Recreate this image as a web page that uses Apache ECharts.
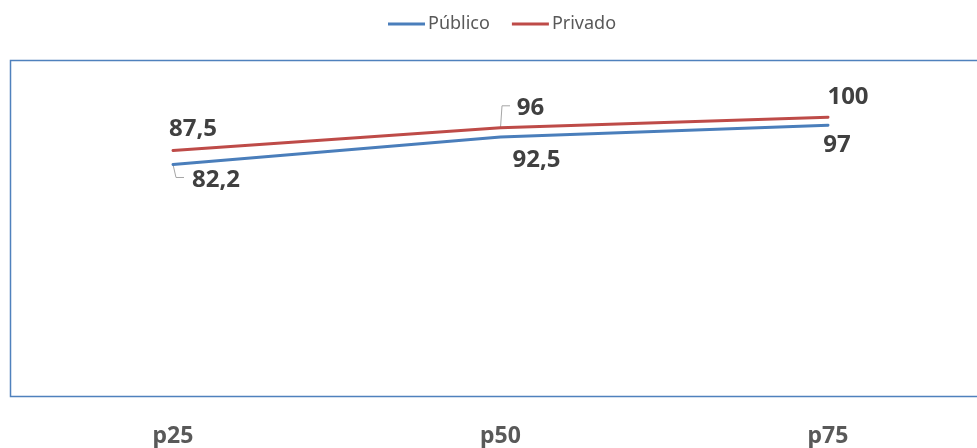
<!DOCTYPE html>
<html>
<head>
<meta charset="utf-8">
<script src="https://cdn.jsdelivr.net/npm/echarts@6/dist/echarts.min.js"></script>
<style>
  html, body { margin: 0; padding: 0; background: #fff; }
  #chart { width: 977px; height: 448px; }
</style>
</head>
<body>
<div id="chart"></div>
<script>
// Percentiles and values for each sector
const categories = ['p25', 'p50', 'p75'];
const publico = [82.2, 92.5, 97];
const privado = [87.5, 96, 100];
const seriesNames = ['Público', 'Privado'];

// Label placement (offsets in px from each point)
const publicoLabelOffsets = [[43, 16], [36, 23], [9, 20]];
const privadoLabelOffsets = [[20, -21], [30, -20], [20, -20]];

// Elbow leader lines, relative to their point: null = no leader
const publicoLeaders = [[[0, 0], [3, 13], [11, 13]], null, null];
const privadoLeaders = [null, [[0, 0], [1.5, -22], [9.5, -22]], null];

const FONT = '"Noto Sans", "Open Sans", sans-serif';

function fmt(v) {
  return String(v).replace('.', ',');
}

function makeSeries(name, values, color, offsets) {
  return {
    name: name,
    type: 'line',
    data: values.map(function (v, i) {
      return { value: v, label: { offset: offsets[i] } };
    }),
    symbol: 'circle',
    symbolSize: 2,
    showSymbol: true,
    itemStyle: { color: color },
    lineStyle: { color: color, width: 3, cap: 'round' },
    label: {
      show: true,
      position: 'inside',
      formatter: function (p) { return fmt(p.value); },
      fontFamily: FONT,
      fontSize: 24,
      fontWeight: 'bold',
      color: '#404040'
    },
    z: 2,
    animation: false
  };
}

// Leader lines, anchored at the same data points through the axes
const leaderShapes = [];
const leaderData = [];
[[publico, publicoLeaders], [privado, privadoLeaders]].forEach(function (pair) {
  pair[0].forEach(function (v, i) {
    if (pair[1][i]) {
      leaderData.push([i, v, leaderShapes.length]);
      leaderShapes.push(pair[1][i]);
    }
  });
});

const chart = echarts.init(document.getElementById('chart'), null, { renderer: 'canvas' });

chart.setOption({
  backgroundColor: '#ffffff',
  animation: false,
  legend: {
    data: seriesNames,
    top: 10,
    left: 383,
    icon: 'rect',
    itemWidth: 37,
    itemHeight: 3,
    itemGap: 22,
    textStyle: { fontFamily: FONT, fontSize: 18, color: '#595959', padding: [0, 0, 0, -2] }
  },
  graphic: [{
    type: 'rect',
    shape: { x: 10.5, y: 60.5, width: 975, height: 336 },
    style: { fill: 'none', stroke: '#4F81BD', lineWidth: 1.5 },
    silent: true,
    z: -1
  }],
  grid: { left: 173, right: 149, top: 64, bottom: 57 },
  xAxis: {
    type: 'category',
    data: categories,
    boundaryGap: false,
    axisLine: { show: false },
    axisTick: { show: false },
    axisLabel: {
      margin: 42,
      fontFamily: FONT,
      fontSize: 23,
      fontWeight: 'bold',
      color: '#595959'
    }
  },
  yAxis: {
    type: 'value',
    min: 0,
    max: 120,
    interval: 20,
    show: false,
    splitLine: { show: false }
  },
  series: [
    makeSeries(seriesNames[0], publico, '#4A7EBB', publicoLabelOffsets),
    makeSeries(seriesNames[1], privado, '#BE4B48', privadoLabelOffsets),
    {
      type: 'custom',
      data: leaderData,
      silent: true,
      z: 1,
      animation: false,
      renderItem: function (params, api) {
        const p = api.coord([api.value(0), api.value(1)]);
        const rel = leaderShapes[api.value(2)];
        return {
          type: 'polyline',
          shape: { points: rel.map(function (d) { return [p[0] + d[0], p[1] + d[1]]; }) },
          style: { stroke: '#A6A6A6', lineWidth: 1, fill: null }
        };
      }
    }
  ]
});
</script>
</body>
</html>
